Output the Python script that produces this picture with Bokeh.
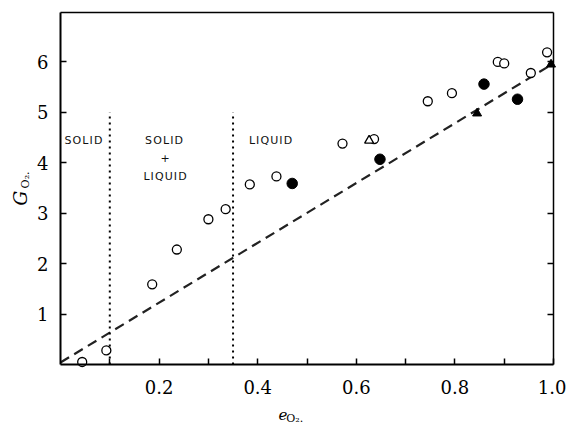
from bokeh.plotting import figure
from bokeh.models import Range1d, FixedTicker, LinearAxis, Label, NumeralTickFormatter
from bokeh.embed import file_html
from bokeh.resources import INLINE
import math

# Data
open_x = [0.044, 0.093, 0.186, 0.236, 0.300, 0.335, 0.384, 0.438, 0.572, 0.636,
          0.745, 0.794, 0.887, 0.900, 0.954, 0.987]
open_y = [0.05, 0.28, 1.59, 2.28, 2.88, 3.08, 3.57, 3.73, 4.38, 4.47,
          5.22, 5.38, 6.00, 5.97, 5.78, 6.19]
filled_x = [0.470, 0.648, 0.859, 0.927]
filled_y = [3.59, 4.07, 5.56, 5.26]
open_tri_x = [0.626]
open_tri_y = [4.44]
filled_tri_x = [0.845, 0.995]
filled_tri_y = [4.98, 5.95]
fit_x = [0.0, 1.0]
fit_y = [0.04, 5.97]
boundary_x = [0.10, 0.35]
boundary_top = 5.0
x_lim = (0.0, 1.0)
y_lim = (0.0, 6.98)
x_ticks = [0.2, 0.4, 0.6, 0.8, 1.0]
x_minor = [0.1, 0.3, 0.5, 0.7, 0.9]
y_ticks = [1, 2, 3, 4, 5, 6]
regions = [("S\u200aO\u200aL\u200aI\u200aD", 0.0465, 4.44),
           ("S\u200aO\u200aL\u200aI\u200aD", 0.210, 4.44),
           ("+", 0.212, 4.09),
           ("L\u200aI\u200aQ\u200aU\u200aI\u200aD", 0.212, 3.73),
           ("L\u200aI\u200aQ\u200aU\u200aI\u200aD", 0.426, 4.44)]

W, H = 566, 424
left_px, right_px, top_px, bottom_px = 60, 13, 12, 60
sx = (W - left_px - right_px) / (x_lim[1] - x_lim[0])
sy = (H - top_px - bottom_px) / (y_lim[1] - y_lim[0])
x_range = Range1d(x_lim[0] - left_px / sx, x_lim[1] + right_px / sx)
y_range = Range1d(y_lim[0] - bottom_px / sy, y_lim[1] + top_px / sy)

p = figure(width=W, height=H, output_backend="svg", toolbar_location=None,
           x_range=x_range, y_range=y_range,
           min_border_left=0, min_border_right=0, min_border_top=0,
           min_border_bottom=0)
p.grid.visible = False
p.background_fill_color = "white"
p.outline_line_color = None

serif = "DejaVu Serif"
for ax in p.xaxis:
    ax.fixed_location = y_lim[0]
    ax.bounds = x_lim
    ax.ticker = FixedTicker(ticks=x_ticks, minor_ticks=x_minor)
    ax.formatter = NumeralTickFormatter(format="0.0")
    ax.major_tick_in = 6
    ax.major_tick_out = 0
    ax.minor_tick_in = 6
    ax.minor_tick_out = 0
    ax.major_tick_line_width = 1.5
    ax.minor_tick_line_width = 1.5
    ax.axis_line_width = 2
    ax.major_label_text_font = serif
    ax.major_label_text_font_size = "18px"
    ax.major_label_text_color = "black"
    ax.major_label_standoff = 15
for ax in p.yaxis:
    ax.fixed_location = x_lim[0]
    ax.bounds = y_lim
    ax.ticker = FixedTicker(ticks=y_ticks, minor_ticks=[])
    ax.major_tick_in = 6
    ax.major_tick_out = 0
    ax.major_tick_line_width = 1.5
    ax.axis_line_width = 2
    ax.major_label_text_font = serif
    ax.major_label_text_font_size = "18px"
    ax.major_label_text_color = "black"
    ax.major_label_standoff = 12

right = LinearAxis(ticker=FixedTicker(ticks=y_ticks, minor_ticks=[]),
                   fixed_location=x_lim[1], bounds=y_lim,
                   major_tick_in=6, major_tick_out=0, axis_line_width=1.5,
                   major_tick_line_width=1.5,
                   major_label_overrides={t: "" for t in y_ticks},
                   major_label_standoff=0)
p.add_layout(right, "right")
top = LinearAxis(ticker=FixedTicker(ticks=[], minor_ticks=[]),
                 fixed_location=y_lim[1], bounds=x_lim, axis_line_width=1.5,
                 major_tick_in=0, major_tick_out=0)
p.add_layout(top, "above")

# fit line
p.line(fit_x, fit_y, line_color="#222222", line_width=2.2, line_dash="10 6")

# boundaries
for bx in boundary_x:
    p.line([bx, bx], [0, boundary_top], line_color="black", line_width=2,
           line_dash="2 4")

p.scatter(open_x, open_y, marker="circle", size=9, fill_color="white",
          line_color="black", line_width=1.3)
p.scatter(filled_x, filled_y, marker="circle", size=10.5, fill_color="black",
          line_color="black")
p.scatter(open_tri_x, open_tri_y, marker="triangle", size=9, fill_color="white",
          line_color="black", line_width=1.3)
p.scatter(filled_tri_x, filled_tri_y, marker="triangle", size=9,
          fill_color="black", line_color="black")

for txt, tx, ty in regions:
    p.add_layout(Label(x=tx, y=ty, text=txt, text_font="DejaVu Sans",
                       text_font_size="11px", text_align="center",
                       text_baseline="middle", text_color="#111111"))

# axis titles
titles = [
    dict(x=-0.083, y=3.30, text="G", text_font_style="italic",
         text_font_size="19px", angle=math.pi / 2),
    dict(x=-0.070, y=3.66, text="O\u2082.", text_font_size="11px",
         angle=math.pi / 2),
    dict(x=0.451, y=-1.00, text="e", text_font_style="italic",
         text_font_size="15px"),
    dict(x=0.475, y=-1.07, text="O\u2082.", text_font_size="11px"),
]
for t in titles:
    p.add_layout(Label(text_font=serif, text_align="center",
                       text_baseline="middle", text_color="black", **t))

open("out.html", "w").write(file_html(p, INLINE))
